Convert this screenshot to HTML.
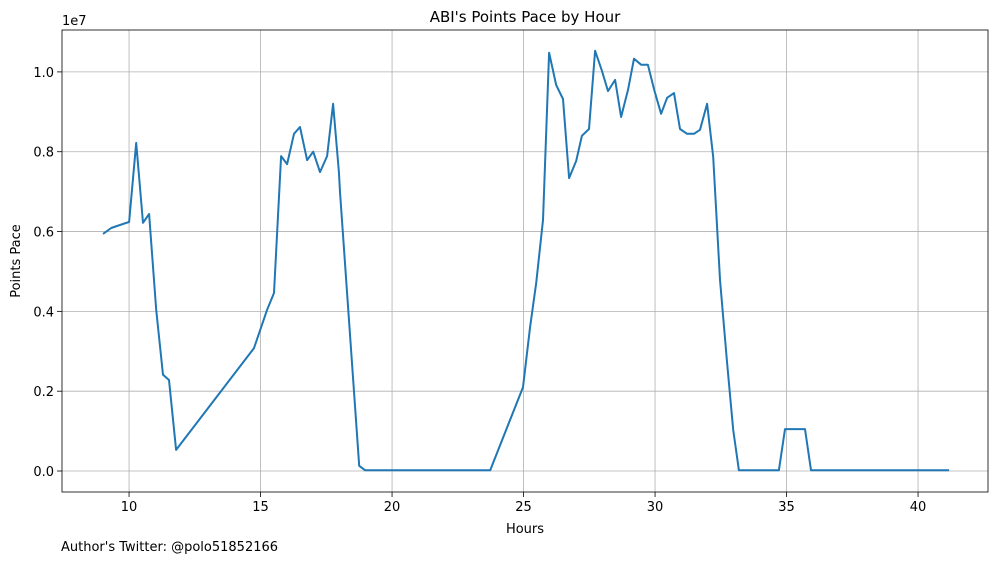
<!DOCTYPE html>
<html><head><meta charset="utf-8"><style>
body{margin:0;background:#fff;font-family:"Liberation Sans","DejaVu Sans",sans-serif}
</style></head><body>
<svg width="1001" height="562" font-family="DejaVu Sans, Liberation Sans, sans-serif">
<g id="g"></g>
</svg>
<script>
const hours=[9.01,9.32,9.54,10.0,10.27,10.53,10.76,11.03,11.29,11.52,11.79,14.75,15.25,15.51,15.78,16.01,16.27,16.5,16.77,17.0,17.26,17.53,17.76,17.98,18.02,18.75,18.97,23.73,24.98,25.25,25.48,25.74,25.97,26.24,26.5,26.73,27.0,27.22,27.49,27.72,27.98,28.21,28.48,28.71,28.97,29.2,29.47,29.73,29.96,30.23,30.46,30.72,30.95,31.22,31.48,31.71,31.98,32.21,32.47,32.74,32.97,33.19,34.71,34.94,35.7,35.93,41.18];
const pace=[5.94,6.09,6.14,6.24,8.22,6.22,6.44,4.04,2.41,2.28,0.53,3.08,4.04,4.46,7.89,7.69,8.45,8.62,7.79,8.0,7.49,7.89,9.2,7.49,6.99,0.13,0.02,0.02,2.1,3.61,4.71,6.29,10.48,9.67,9.32,7.34,7.77,8.4,8.57,10.53,10.03,9.52,9.8,8.87,9.55,10.33,10.18,10.18,9.57,8.95,9.35,9.47,8.57,8.45,8.45,8.55,9.2,7.87,4.79,2.71,1.03,0.02,0.02,1.05,1.05,0.02,0.02];
const xTicks=[10,15,20,25,30,35,40];
const yTicks=[0,0.2,0.4,0.6,0.8,1.0];
const L=62,R=988,T=30,B=492,x0=7.45,x1=42.66,y0=-0.526,y1=11.05;
const sx=v=>L+(v-x0)/(x1-x0)*(R-L);
const sy=v=>B-(v-y0)/(y1-y0)*(B-T);
const g=document.getElementById('g');const NS='http://www.w3.org/2000/svg';
function mk(t,a,txt){const e=document.createElementNS(NS,t);for(const k in a)e.setAttribute(k,a[k]);if(txt!=null)e.textContent=txt;g.appendChild(e);return e;}
xTicks.forEach(v=>{const x=sx(v);
const gl=mk('line',{x1:x,x2:x,y1:T,y2:B,stroke:'#b0b0b0','stroke-width':0.8});


mk('line',{x1:x,x2:x,y1:B,y2:B+5,stroke:'#000','stroke-width':0.8});
const t=mk('text',{x:x,y:B+19,'font-size':13,'text-anchor':'middle'},v);

});
yTicks.forEach(v=>{const y=sy(v*10);
const gl=mk('line',{x1:L,x2:R,y1:y,y2:y,stroke:'#b0b0b0','stroke-width':0.8});


mk('line',{x1:L-5,x2:L,y1:y,y2:y,stroke:'#000','stroke-width':0.8});
const t=mk('text',{x:L-8,y:y+5,'font-size':13,'text-anchor':'end'},v.toFixed(1));

});
const d=hours.map((h,i)=>(i?'L':'M')+sx(h).toFixed(1)+','+sy(pace[i]).toFixed(1)).join('');
const ln=mk('path',{d:d,fill:'none',stroke:'#1f77b4','stroke-width':2,'stroke-linejoin':'round'});


const fr=mk('rect',{x:L,y:T,width:R-L,height:B-T,fill:'none',stroke:'#000','stroke-width':0.8});


const tt=mk('text',{x:(L+R)/2,y:22,'font-size':15,'text-anchor':'middle'},"ABI's Points Pace by Hour");


const ex=mk('text',{x:62,y:25,'font-size':13},'1e7');


const xl=mk('text',{x:(L+R)/2,y:533,'font-size':13,'text-anchor':'middle'},'Hours');


const yl=mk('text',{x:0,y:0,'font-size':13,'text-anchor':'middle',transform:'translate(20,'+(T+B)/2+') rotate(-90)'},'Points Pace');


const au=mk('text',{x:61,y:551,'font-size':13},"Author's Twitter: @polo51852166");


</script>
</body></html>
